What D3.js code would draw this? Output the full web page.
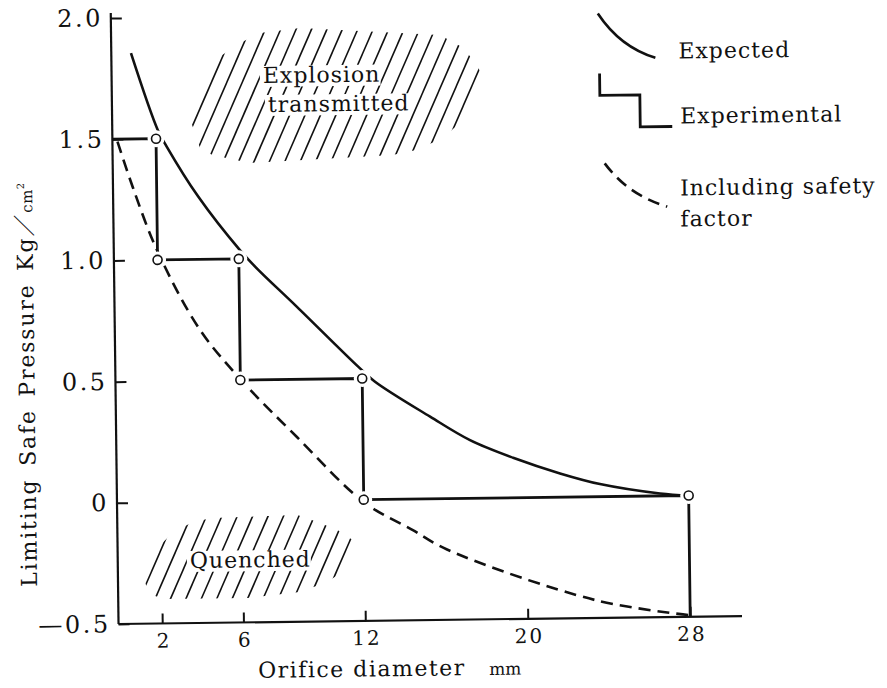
<!DOCTYPE html>
<html>
<head>
<meta charset="utf-8">
<script src="https://cdn.jsdelivr.net/npm/d3@7"></script>
<style>
  body { margin: 0; background: #fff; }
</style>
</head>
<body>
<svg id="chart" width="887" height="688"></svg>
<script>
// ---- data ----
const xTicks = [2, 6, 12, 20, 28];
const yTicks = [-0.5, 0, 0.5, 1.0, 1.5, 2.0];
const yTickLabels = ["\u20140.5", "0", "0.5", "1.0", "1.5", "2.0"];

// expected (solid curve)
const expectedX = [0.82, 2.09, 2.52, 4.04, 6.06, 6.88, 8.82, 11.81, 12.63, 15.32, 17.27, 19.38, 21.68, 23.64, 26.59, 28.0];
const expectedY = [1.854, 1.536, 1.467, 1.259, 1.036, 0.960, 0.800, 0.549, 0.486, 0.339, 0.240, 0.165, 0.098, 0.052, 0.010, 0.0];

// including safety factor (dashed curve)
const safetyX = [0.1, 0.83, 1.98, 4.04, 6.13, 8.75, 12.0, 14.4, 16.07, 23.32, 27.9];
const safetyY = [1.49, 1.30, 1.04, 0.71, 0.492, 0.262, -0.01, -0.128, -0.21, -0.426, -0.493];

// experimental (step line) and its open circles
const stepX = [-0.15, 2, 2, 6, 6, 12, 12, 28, 28];
const stepY = [1.5, 1.5, 1.0, 1.0, 0.5, 0.5, 0, 0, -0.5];
const pointX = [2, 2, 6, 6, 12, 12, 28];
const pointY = [1.5, 1.0, 1.0, 0.5, 0.5, 0, 0];

// hatched regions (outline in data units)
const explosionX = [3.54, 4.20, 5.31, 6.30, 7.19, 9.16, 16.04, 17.12, 17.75, 18.23, 17.12, 16.13, 14.80, 13.63, 6.62, 4.76, 4.16];
const explosionY = [1.617, 1.731, 1.842, 1.894, 1.931, 1.949, 1.913, 1.862, 1.80, 1.725, 1.561, 1.488, 1.440, 1.420, 1.395, 1.430, 1.459];
const quenchedX = [1.08, 1.69, 2.57, 3.56, 4.55, 8.73, 9.71, 10.69, 11.67, 11.06, 10.06, 8.69, 6.21, 2.06, 1.42];
const quenchedY = [-0.311, -0.197, -0.127, -0.083, -0.068, -0.060, -0.090, -0.124, -0.179, -0.289, -0.342, -0.378, -0.400, -0.399, -0.378];

const explosionWords = ["Explosion", "transmitted"];
const explosionWordX = [7.30, 7.53];
const explosionWordY = [1.724, 1.604];
const quenchedWords = ["Quenched"];
const quenchedWordX = [3.40];
const quenchedWordY = [-0.273];

const legendNames = ["Expected", "Experimental", "Including safety", "factor"];

// ---- drawing ----
const serif = "'DejaVu Serif', serif";
const ink = "#111";
const svg = d3.select("#chart");
const defs = svg.append("defs");
// the scanned figure is slightly tilted
const root = svg.append("g").attr("transform", "rotate(-0.73,400,344)");

const x = d3.scaleLinear().domain([-0.15, 30.55]).range([115, 738.5]);
const y = d3.scaleLinear().domain([-0.5, 2.0]).range([620.4, 14.4]);

function hatch(id, px, py, words, wx, wy) {
    const pts = px.map((v, i) => [x(v), y(py[i])]);
    const mask = defs.append("mask")
        .attr("id", id)
        .attr("maskUnits", "userSpaceOnUse")
        .attr("x", -100).attr("y", -100)
        .attr("width", 1100).attr("height", 900);
    mask.append("polygon")
        .attr("points", pts.map(p => p.join(",")).join(" "))
        .attr("fill", "white");

    const lines = root.append("g").attr("mask", `url(#${id})`);
    const labels = root.append("g")
        .attr("font-family", serif)
        .attr("font-size", 22)
        .attr("letter-spacing", 1)
        .attr("fill", ink);

    words.forEach((w, i) => {
        const t = labels.append("text")
            .attr("x", x(wx[i]))
            .attr("y", y(wy[i]))
            .text(w);
        const b = t.node().getBBox();
        mask.append("rect")
            .attr("x", b.x - 3).attr("y", b.y + 3)
            .attr("width", b.width + 3).attr("height", b.height - 4)
            .attr("fill", "black");
    });

    const [x0, x1] = d3.extent(pts, d => d[0]);
    const [y0, y1] = d3.extent(pts, d => d[1]);
    const slope = 0.45, step = 15.5;
    const rise = y1 - y0;
    d3.range(x0 - slope * rise - step, x1 + step, step).forEach(xb => {
        lines.append("line")
            .attr("x1", xb).attr("y1", y1 + 5)
            .attr("x2", xb + slope * (rise + 10)).attr("y2", y0 - 5)
            .attr("stroke", ink)
            .attr("stroke-width", 1.6);
    });
}

hatch("hatch-explosion", explosionX, explosionY, explosionWords, explosionWordX, explosionWordY);
hatch("hatch-quenched", quenchedX, quenchedY, quenchedWords, quenchedWordX, quenchedWordY);

const curve = d3.line()
    .x(d => x(d[0]))
    .y(d => y(d[1]))
    .curve(d3.curveCatmullRom.alpha(0.5));

root.append("path")
    .datum(expectedX.map((v, i) => [v, expectedY[i]]))
    .attr("fill", "none")
    .attr("stroke", ink)
    .attr("stroke-width", 2.6)
    .attr("d", curve);

root.append("path")
    .datum(safetyX.map((v, i) => [v, safetyY[i]]))
    .attr("fill", "none")
    .attr("stroke", ink)
    .attr("stroke-width", 2.6)
    .attr("stroke-dasharray", "12,7")
    .attr("d", curve);

const step = d3.line()
    .x(d => x(d[0]))
    .y(d => y(d[1]));

root.append("path")
    .datum(stepX.map((v, i) => [v, stepY[i]]))
    .attr("fill", "none")
    .attr("stroke", ink)
    .attr("stroke-width", 2.8)
    .attr("d", step);

const pts = pointX.map((v, i) => [v, pointY[i]]);
root.append("g").selectAll("circle")
    .data(pts)
    .join("circle")
    .attr("cx", d => x(d[0]))
    .attr("cy", d => y(d[1]))
    .attr("r", 8.5)
    .attr("fill", "white");
root.append("g").selectAll("circle")
    .data(pts)
    .join("circle")
    .attr("cx", d => x(d[0]))
    .attr("cy", d => y(d[1]))
    .attr("r", 4.5)
    .attr("fill", "white")
    .attr("stroke", ink)
    .attr("stroke-width", 1.6);

// axes
const yAxis = root.append("g")
    .attr("transform", `translate(${x(-0.15)},0)`)
    .call(d3.axisLeft(y)
        .tickValues(yTicks)
        .tickFormat((d, i) => yTickLabels[i])
        .tickSize(-11)
        .tickSizeOuter(0)
        .tickPadding(8));
yAxis.select(".domain").remove();
yAxis.selectAll(".tick line").attr("stroke", ink).attr("stroke-width", 2);
yAxis.selectAll(".tick text")
    .attr("font-family", serif)
    .attr("font-size", 24)
    .attr("letter-spacing", 2.5)
    .attr("fill", ink);

const xAxis = root.append("g")
    .attr("transform", `translate(0,${y(-0.5)})`)
    .call(d3.axisBottom(x)
        .tickValues(xTicks)
        .tickSize(-10)
        .tickSizeOuter(0)
        .tickPadding(10));
xAxis.select(".domain").remove();
xAxis.selectAll(".tick line").attr("stroke", ink).attr("stroke-width", 2);
xAxis.selectAll(".tick text")
    .attr("font-family", serif)
    .attr("font-size", 20)
    .attr("letter-spacing", 2)
    .attr("dx", 1)
    .attr("fill", ink);

root.append("line")
    .attr("x1", x(-0.15)).attr("x2", x(-0.15))
    .attr("y1", y(2.0) - 5).attr("y2", y(-0.5))
    .attr("stroke", ink).attr("stroke-width", 2.2);
root.append("line")
    .attr("x1", x(-0.15)).attr("x2", x(30.55))
    .attr("y1", y(-0.5)).attr("y2", y(-0.5))
    .attr("stroke", ink).attr("stroke-width", 2.2);

// axis titles
root.append("text")
    .attr("x", 254).attr("y", 676)
    .attr("font-family", serif).attr("font-size", 22)
    .attr("letter-spacing", 1.5).attr("fill", ink)
    .text("Orifice diameter");
root.append("text")
    .attr("x", 485).attr("y", 676)
    .attr("font-family", serif).attr("font-size", 17)
    .attr("fill", ink)
    .text("mm");

const yTitle = root.append("text")
    .attr("transform", "translate(34,582) rotate(-90)")
    .attr("font-family", serif).attr("font-size", 22)
    .attr("letter-spacing", 1.8).attr("word-spacing", 4).attr("fill", ink);
yTitle.append("tspan").text("Limiting Safe Pressure Kg");
yTitle.append("tspan").attr("font-family", "'Noto Sans CJK JP', sans-serif").attr("font-weight", 300).text("\uFF0F");
yTitle.append("tspan").attr("font-size", 15).attr("letter-spacing", 0.5).text("cm");
yTitle.append("tspan").attr("font-size", 10).attr("dy", -8).text("2");

// legend
const legend = root.append("g")
    .attr("font-family", serif)
    .attr("font-size", 22)
    .attr("letter-spacing", 1)
    .attr("fill", ink);
legend.append("path")
    .attr("d", "M602,16 Q624,50 659,61")
    .attr("fill", "none").attr("stroke", ink).attr("stroke-width", 2.6);
legend.append("path")
    .attr("d", "M603,76 V98 H643 V130 H675")
    .attr("fill", "none").attr("stroke", ink).attr("stroke-width", 2.8);
legend.append("path")
    .attr("d", "M607,166 Q630,198 669,210")
    .attr("fill", "none").attr("stroke", ink).attr("stroke-width", 2.6)
    .attr("stroke-dasharray", "12,7");
const legendPos = [[682, 62], [683, 127], [682, 199], [682, 230]];
legendNames.forEach((n, i) => {
    legend.append("text")
        .attr("x", legendPos[i][0]).attr("y", legendPos[i][1])
        .text(n);
});
</script>
</body>
</html>
